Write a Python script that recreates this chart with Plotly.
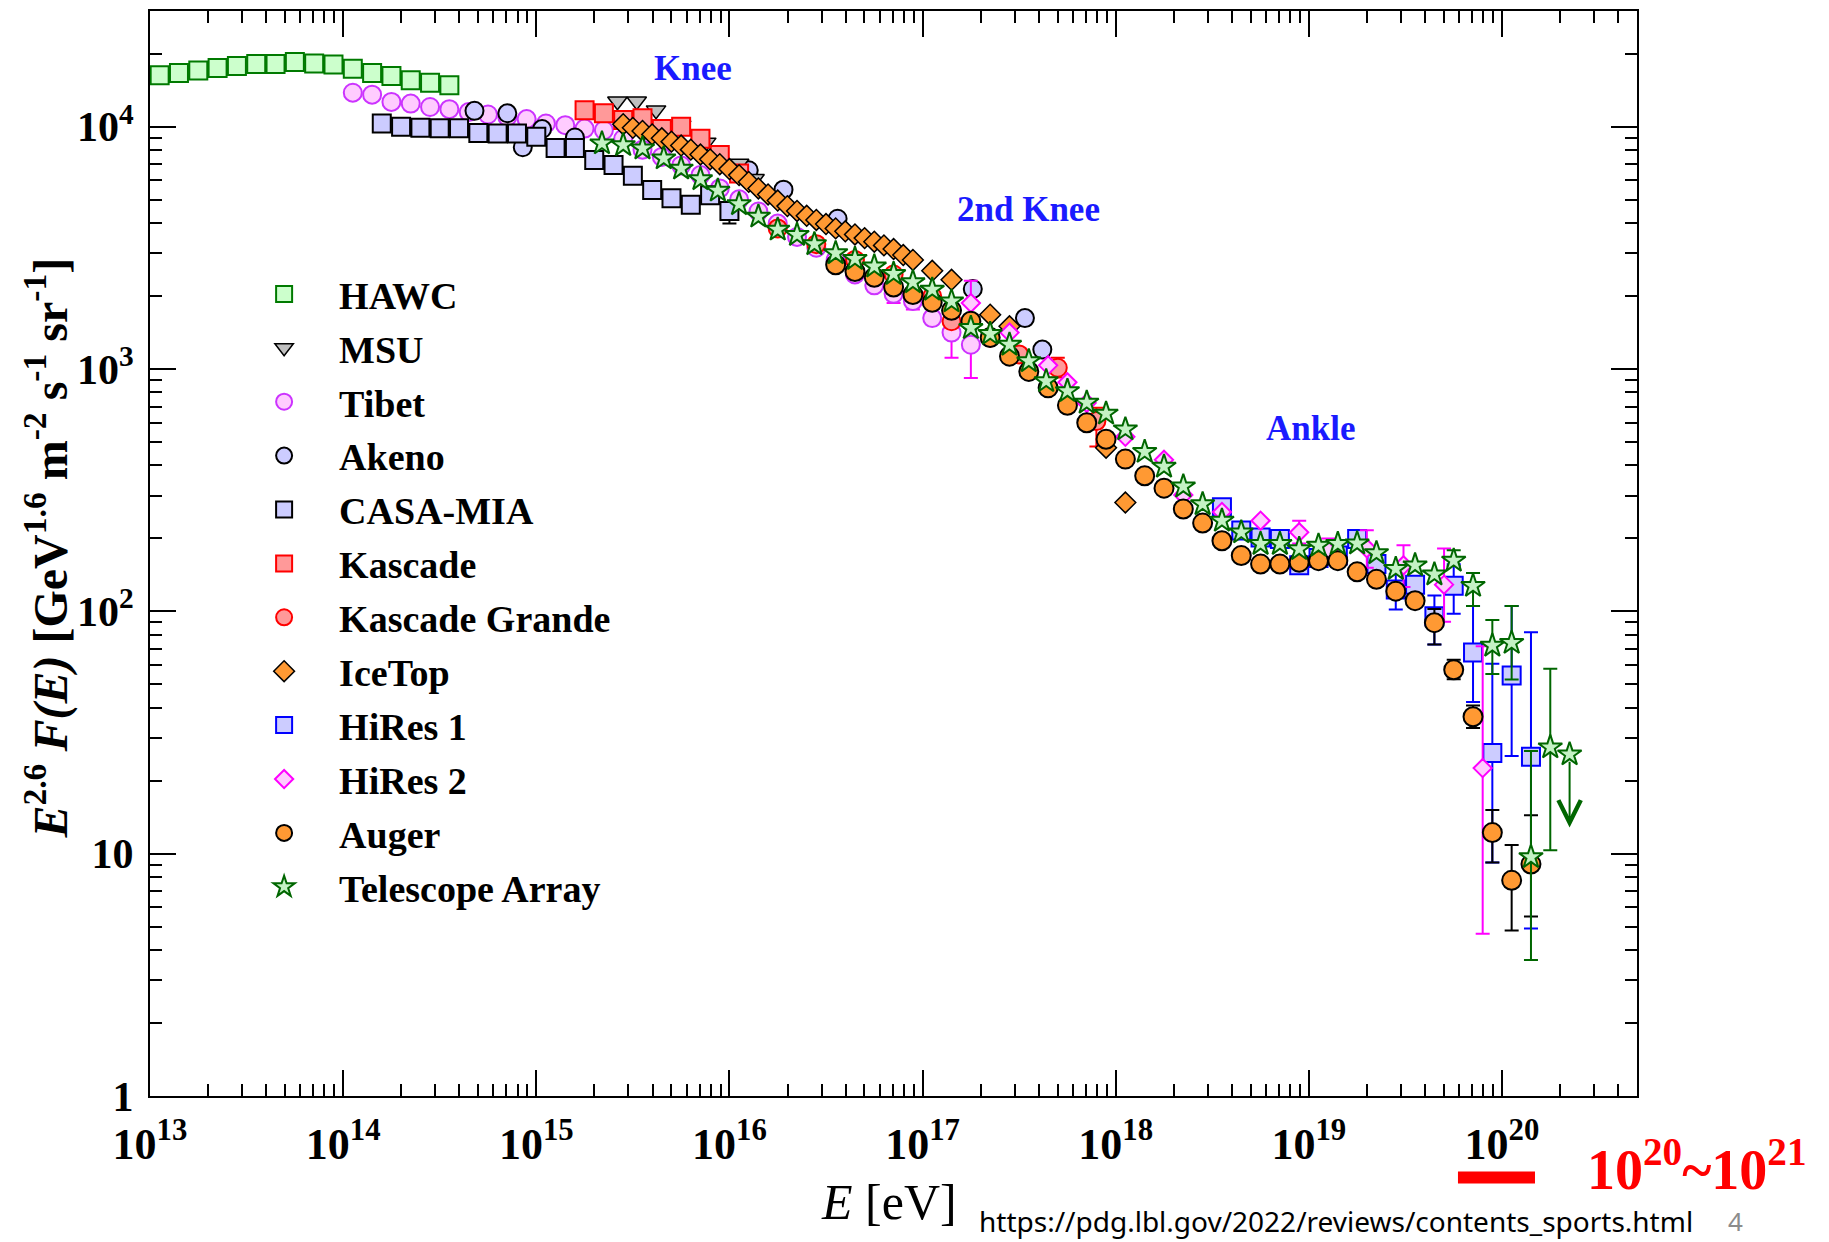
import numpy as np
import plotly.graph_objects as go

# ---------------- data : log10(E/eV) and log10(E^2.6 F(E) [GeV^1.6 m^-2 s^-1 sr^-1]) ----------------
hawc_logE = [13.05, 13.15, 13.25, 13.35, 13.45, 13.55, 13.65, 13.75, 13.85, 13.95, 14.05, 14.15, 14.25, 14.35, 14.45, 14.55]
hawc_logF = [4.212, 4.221, 4.232, 4.242, 4.250, 4.258, 4.258, 4.267, 4.260, 4.256, 4.239, 4.221, 4.209, 4.191, 4.181, 4.171]

msu_logE = [15.42, 15.52, 15.62, 15.75, 15.88, 16.05, 16.13]
msu_logF = [4.105, 4.105, 4.068, 4.006, 3.935, 3.848, 3.785]

tibet_logE = [14.05, 14.15, 14.25, 14.35, 14.45, 14.55, 14.65, 14.75, 14.85, 14.95, 15.05, 15.15, 15.25, 15.35, 15.45,
              15.55, 15.65, 15.75, 15.85, 15.95, 16.05, 16.15, 16.25, 16.35, 16.45, 16.55, 16.65, 16.75, 16.85, 16.95,
              17.05, 17.15, 17.25]
tibet_logF = [4.140, 4.132, 4.102, 4.095, 4.081, 4.072, 4.060, 4.050, 4.040, 4.031, 4.013, 4.006, 3.992, 3.985, 3.950,
              3.905, 3.875, 3.840, 3.800, 3.745, 3.700, 3.650, 3.600, 3.545, 3.500, 3.450, 3.390, 3.345, 3.310, 3.280,
              3.210, 3.150, 3.100]
tibet_err_logE = [16.85, 16.95, 17.15, 17.25]
tibet_err_hi = [3.330, 3.300, 3.170, 3.120]
tibet_err_lo = [3.272, 3.245, 3.046, 2.963]

akeno_logE = [14.68, 14.85, 14.93, 15.03, 15.20, 16.10, 16.28, 16.56, 17.26, 17.53, 17.62]
akeno_logF = [4.065, 4.055, 3.915, 3.990, 3.955, 3.820, 3.740, 3.620, 3.330, 3.210, 3.080]

casa_logE = [14.2, 14.3, 14.4, 14.5, 14.6, 14.7, 14.8, 14.9, 15.0, 15.1, 15.2, 15.3, 15.4, 15.5, 15.6, 15.7, 15.8, 15.9, 16.0]
casa_logF = [4.013, 3.999, 3.995, 3.993, 3.993, 3.974, 3.972, 3.972, 3.958, 3.912, 3.912, 3.862, 3.842, 3.797,
             3.739, 3.704, 3.678, 3.717, 3.652]
casa_err_logE = [15.8, 16.0]
casa_err_hi = [3.700, 3.675]
casa_err_lo = [3.660, 3.600]

kascade_logE = [15.25, 15.35, 15.45, 15.55, 15.65, 15.75, 15.85, 15.95, 16.05]
kascade_logF = [4.068, 4.055, 4.027, 4.035, 3.990, 4.000, 3.950, 3.883, 3.807]

kgrande_logE = [16.25, 16.45, 16.65, 16.85, 17.05, 17.15, 17.35, 17.50, 17.70, 17.90]
kgrande_logF = [3.580, 3.515, 3.450, 3.390, 3.300, 3.197, 3.130, 3.060, 3.005, 2.785]
kgrande_err_logE = [17.70, 17.90]
kgrande_err_hi = [3.046, 2.840]
kgrande_err_lo = [2.965, 2.680]

icetop_logE = [15.45, 15.50, 15.55, 15.60, 15.65, 15.70, 15.75, 15.80, 15.85, 15.90, 15.95, 16.00, 16.05, 16.10,
               16.15, 16.20, 16.25, 16.30, 16.35, 16.40, 16.45, 16.50, 16.55, 16.60, 16.65, 16.70, 16.75, 16.80,
               16.85, 16.90, 16.95, 17.05, 17.15, 17.35, 17.45, 17.95, 18.05]
icetop_logF = [4.010, 3.995, 3.982, 3.968, 3.952, 3.938, 3.922, 3.905, 3.885, 3.865, 3.845, 3.825, 3.800, 3.772,
               3.745, 3.720, 3.695, 3.672, 3.652, 3.632, 3.615, 3.598, 3.580, 3.568, 3.555, 3.540, 3.525, 3.510,
               3.495, 3.470, 3.450, 3.405, 3.368, 3.224, 3.176, 2.675, 2.449]

hires1_logE = [18.55, 18.65, 18.75, 18.85, 18.95, 19.05, 19.15, 19.25, 19.35, 19.45, 19.55, 19.65, 19.75, 19.85, 19.95, 20.05, 20.15]
hires1_logF = [2.429, 2.333, 2.305, 2.298, 2.190, 2.220, 2.230, 2.298, 2.195, 2.090, 2.110, 1.980, 2.105, 1.830, 1.415, 1.735, 1.400]
hires1_err_logE = [19.45, 19.65, 19.75, 19.85, 19.95, 20.05, 20.15]
hires1_err_hi = [2.154, 2.065, 2.194, 2.022, 1.784, 2.022, 1.914]
hires1_err_lo = [2.007, 1.863, 1.990, 1.626, 0.964, 1.403, 0.691]

hires2_logE = [17.25, 17.45, 17.65, 17.75, 17.85, 18.05, 18.25, 18.35, 18.55, 18.75, 18.95, 19.10, 19.30, 19.49, 19.70, 19.90]
hires2_logF = [3.272, 3.150, 3.015, 2.945, 2.860, 2.720, 2.625, 2.480, 2.410, 2.374, 2.326, 2.250, 2.260, 2.190, 2.110, 1.353]
hires2_err_logE = [17.25, 18.95, 19.10, 19.30, 19.49, 19.70, 19.90]
hires2_err_hi = [3.364, 2.374, 2.300, 2.335, 2.273, 2.259, 1.856]
hires2_err_lo = [3.180, 2.280, 2.200, 2.180, 2.100, 1.957, 0.669]

auger_logE = [16.55, 16.65, 16.75, 16.85, 16.95, 17.05, 17.15, 17.25, 17.35, 17.45, 17.55, 17.65, 17.75, 17.85,
              17.95, 18.05, 18.15, 18.25, 18.35, 18.45, 18.55, 18.65, 18.75, 18.85, 18.95, 19.05, 19.15, 19.25,
              19.35, 19.45, 19.55, 19.65, 19.75, 19.85, 19.95, 20.05, 20.15]
auger_logF = [3.430, 3.402, 3.378, 3.338, 3.307, 3.275, 3.242, 3.197, 3.130, 3.053, 2.990, 2.922, 2.850, 2.778,
              2.710, 2.628, 2.559, 2.508, 2.422, 2.364, 2.291, 2.230, 2.195, 2.195, 2.202, 2.209, 2.209, 2.163,
              2.132, 2.083, 2.044, 1.953, 1.759, 1.565, 1.087, 0.890, 0.957]
auger_err_logE = [19.65, 19.75, 19.85, 19.95, 20.05, 20.15]
auger_err_hi = [2.010, 1.800, 1.611, 1.180, 1.036, 1.158]
auger_err_lo = [1.863, 1.720, 1.518, 0.964, 0.683, 0.741]

ta_logE = [15.34, 15.45, 15.55, 15.66, 15.75, 15.85, 15.94, 16.05, 16.15, 16.25, 16.35, 16.44, 16.55, 16.65, 16.75,
           16.85, 16.95, 17.05, 17.15, 17.25, 17.35, 17.45, 17.55, 17.64, 17.75, 17.85, 17.95, 18.05, 18.15, 18.25,
           18.35, 18.45, 18.55, 18.65, 18.75, 18.85, 18.95, 19.05, 19.15, 19.25, 19.35, 19.45, 19.55, 19.65, 19.75,
           19.85, 19.95, 20.05, 20.15, 20.25, 20.35]
ta_logF = [3.931, 3.924, 3.910, 3.869, 3.827, 3.783, 3.736, 3.680, 3.629, 3.575, 3.553, 3.515, 3.478, 3.454, 3.423,
           3.392, 3.358, 3.327, 3.279, 3.169, 3.145, 3.100, 3.032, 2.950, 2.909, 2.861, 2.816, 2.751, 2.658, 2.597,
           2.515, 2.442, 2.374, 2.326, 2.278, 2.278, 2.257, 2.271, 2.278, 2.280, 2.240, 2.175, 2.190, 2.152, 2.209,
           2.105, 1.858, 1.870, 0.986, 1.439, 1.410]
ta_err_logE = [19.75, 19.85, 19.95, 20.05, 20.15, 20.25]
ta_err_hi = [2.252, 2.158, 1.964, 2.022, 1.424, 1.763]
ta_err_lo = [2.187, 2.022, 1.741, 1.719, 0.561, 1.014]
ta_ul_logE = 20.35
ta_ul_to = 1.108

x_tickvals = [1e13, 1e14, 1e15, 1e16, 1e17, 1e18, 1e19, 1e20]
x_ticktext = ['10<sup>13</sup>', '10<sup>14</sup>', '10<sup>15</sup>', '10<sup>16</sup>', '10<sup>17</sup>',
              '10<sup>18</sup>', '10<sup>19</sup>', '10<sup>20</sup>']
y_tickvals = [1, 10, 100, 1000, 10000]
y_ticktext = ['1', '10', '10<sup>2</sup>', '10<sup>3</sup>', '10<sup>4</sup>']

SERIF = "Liberation Serif"
fig = go.Figure()


def add_series(name, logE, logF, symbol, size, fill, edge, lw, rank,
               err_logE=None, err_hi=None, err_lo=None, errcolor='black'):
    E = 10 ** np.array(logE)
    F = 10 ** np.array(logF)
    if err_logE is not None:
        idx = [int(np.argmin(np.abs(np.array(logE) - e))) for e in err_logE]
        ex = E[idx]
        ey = F[idx]
        up = 10 ** np.array(err_hi) - ey
        dn = ey - 10 ** np.array(err_lo)
        fig.add_trace(go.Scatter(x=ex, y=ey, mode='markers', showlegend=False, hoverinfo='skip',
                                 legendgroup=name, legendrank=rank, marker=dict(size=2, opacity=0),
                                 error_y=dict(type='data', symmetric=False, array=up, arrayminus=dn,
                                              color=errcolor, thickness=2, width=7)))
    fig.add_trace(go.Scatter(x=E, y=F, mode='markers', name=name, legendrank=rank, legendgroup=name,
                             marker=dict(symbol=symbol, size=size, color=fill,
                                         line=dict(color=edge, width=lw))))


add_series('HAWC', hawc_logE, hawc_logF, 'square', 18, '#ccffcc', '#007a00', 2, 1)
add_series('Tibet', tibet_logE, tibet_logF, 'circle', 18, '#ffccff', '#cc33ff', 2, 3,
           tibet_err_logE, tibet_err_hi, tibet_err_lo, '#ff00ff')
add_series('Akeno', akeno_logE, akeno_logF, 'circle', 18, '#ccccff', '#000000', 2, 4)
add_series('CASA-MIA', casa_logE, casa_logF, 'square', 18, '#ccccff', '#000000', 2, 5,
           casa_err_logE, casa_err_hi, casa_err_lo, '#000000')
add_series('MSU', msu_logE, msu_logF, 'triangle-down', 17, '#bfbfbf', '#000000', 1.5, 2)
add_series('Kascade', kascade_logE, kascade_logF, 'square', 18, '#ff9999', '#ff0000', 2, 6)
add_series('Kascade Grande', kgrande_logE, kgrande_logF, 'circle', 18, '#ff9999', '#ff0000', 2, 7,
           kgrande_err_logE, kgrande_err_hi, kgrande_err_lo, '#ff0000')
add_series('IceTop', icetop_logE, icetop_logF, 'diamond', 16, '#ff9933', '#000000', 1.5, 8)
add_series('HiRes 1', hires1_logE, hires1_logF, 'square', 18, '#ccccff', '#0000ff', 2, 9,
           hires1_err_logE, hires1_err_hi, hires1_err_lo, '#0000ff')
add_series('HiRes 2', hires2_logE, hires2_logF, 'diamond', 14, '#ffccff', '#ff00ff', 2, 10,
           hires2_err_logE, hires2_err_hi, hires2_err_lo, '#ff00ff')
add_series('Auger', auger_logE, auger_logF, 'circle', 19, '#ff9933', '#000000', 2, 11,
           auger_err_logE, auger_err_hi, auger_err_lo, '#000000')
add_series('Telescope Array', ta_logE, ta_logF, 'star', 18, '#c4f2c4', '#006600', 2, 12,
           ta_err_logE, ta_err_hi, ta_err_lo, '#006600')

# TA upper limit arrow (last point)
ul_y = ta_logF[ta_logE.index(ta_ul_logE)]
fig.add_annotation(x=ta_ul_logE, y=ta_ul_to, ax=ta_ul_logE, ay=ul_y, xref='x', yref='y', axref='x', ayref='y',
                   text='', showarrow=True, arrowhead=5, arrowsize=2.2, arrowwidth=2, arrowcolor='#006600',
                   standoff=0, startstandoff=6)

axis_common = dict(type='log', showline=True, linecolor='black', linewidth=2, mirror='allticks',
                   ticks='inside', ticklen=26, tickwidth=2, tickcolor='black', showgrid=False, zeroline=False,
                   minor=dict(ticks='inside', ticklen=12, tickwidth=1.5, tickcolor='black', showgrid=False,
                              dtick='D1'))

fig.update_xaxes(range=[13, np.log10(5e20)], tickvals=x_tickvals, ticktext=x_ticktext,
                 tickfont=dict(family=SERIF, size=44, color='black', weight='bold'), ticklabelstandoff=8,
                 **axis_common)
fig.update_yaxes(range=[0, np.log10(3e4)], tickvals=y_tickvals, ticktext=y_ticktext,
                 tickfont=dict(family=SERIF, size=42, color='black', weight='bold'), ticklabelstandoff=6,
                 **axis_common)

# region labels
for txt, lx, ly in [('Knee', 15.81, 4.24), ('2nd Knee', 17.55, 3.66), ('Ankle', 19.01, 2.756)]:
    fig.add_annotation(x=lx, y=ly, xref='x', yref='y', text='<b>' + txt + '</b>', showarrow=False,
                       xanchor='center', yanchor='middle',
                       font=dict(family=SERIF, size=35, color='#1a1aff'))

# axis titles
fig.add_annotation(x=0.497, y=-0.098, xref='paper', yref='paper', showarrow=False,
                   xanchor='center', yanchor='middle',
                   text='<i>E</i> [eV]', font=dict(family=SERIF, size=50, color='black'))
fig.add_annotation(x=-0.0696, y=0.505, xref='paper', yref='paper', showarrow=False, textangle=-90,
                   xanchor='center', yanchor='middle',
                   text='<b><i>E</i><sup>2.6</sup> <i>F(E)</i> [GeV<sup>1.6</sup> m<sup>-2</sup> s<sup>-1</sup> sr<sup>-1</sup>]</b>',
                   font=dict(family=SERIF, size=48, color='black'))

# red range marker and label
fig.add_shape(type='line', xref='paper', yref='paper', x0=0.8796, x1=0.9314, y0=-0.075, y1=-0.075,
              line=dict(color='#ff0000', width=12))
fig.add_annotation(x=1.0404, y=-0.064, xref='paper', yref='paper', xanchor='center', yanchor='middle',
                   showarrow=False, text='<b>10<sup>20</sup>~10<sup>21</sup></b>',
                   font=dict(family=SERIF, size=56, color='#ff0000'))
fig.add_annotation(x=0.556, y=-0.1155, xref='paper', yref='paper', xanchor='left', yanchor='middle',
                   showarrow=False, text='https://pdg.lbl.gov/2022/reviews/contents_sports.html',
                   font=dict(family='Noto Sans', size=28, color='black'))
fig.add_annotation(x=1.066, y=-0.1155, xref='paper', yref='paper', xanchor='center', yanchor='middle',
                   showarrow=False, text='4', font=dict(family='Noto Sans', size=26, color='#8c8c8c'))

fig.update_layout(
    width=1829, height=1242,
    margin=dict(l=150, r=192, t=9, b=146),
    paper_bgcolor='white', plot_bgcolor='white',
    legend=dict(x=0.0532, y=0.768, xanchor='left', yanchor='top', bgcolor='rgba(0,0,0,0)',
                font=dict(family=SERIF, size=38, color='black', weight='bold'),
                itemwidth=100, tracegroupgap=1.5, traceorder='grouped'),
)

fig.write_html("out.html", config={'displayModeBar': False},
               post_script="document.body.style.margin='0';")
